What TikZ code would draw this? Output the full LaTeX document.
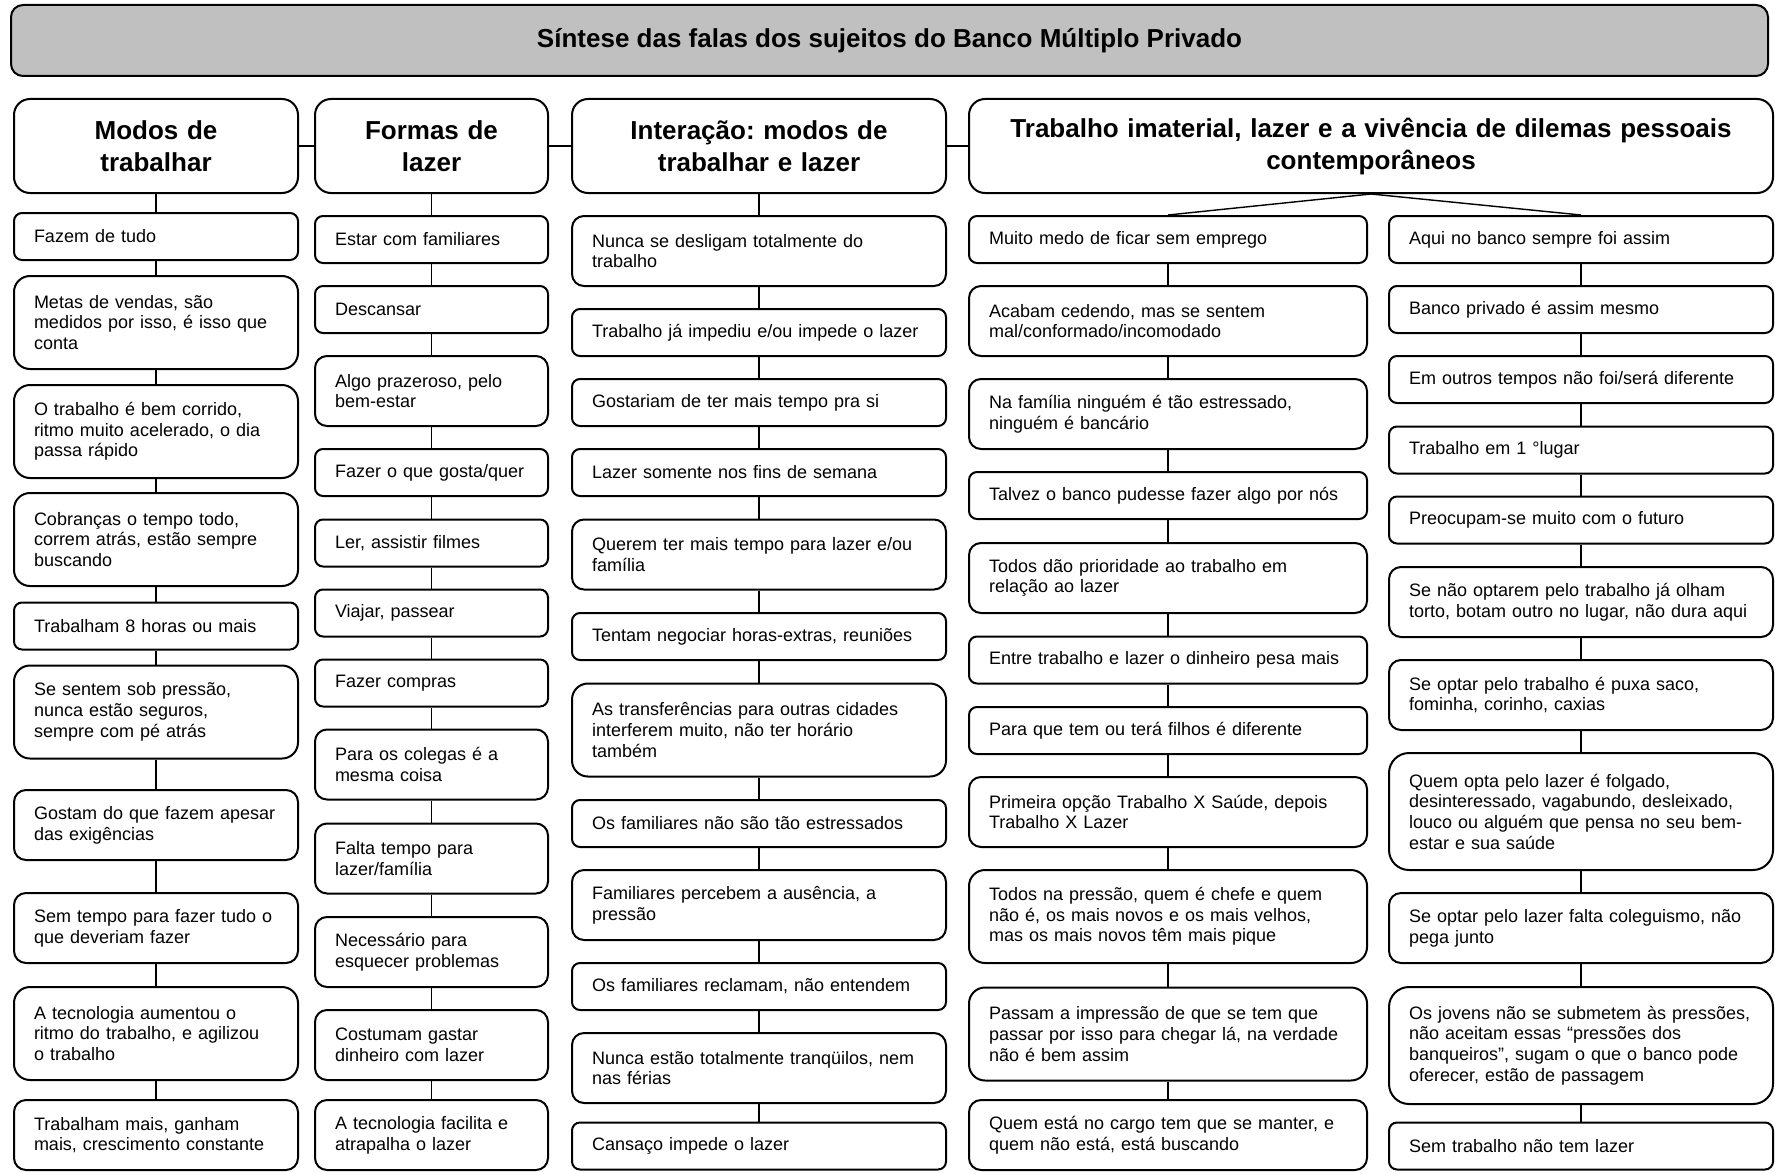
\documentclass[tikz,border=0pt]{standalone}
\usepackage{fontspec}
\setmainfont{Liberation Sans}
\definecolor{titulo}{RGB}{192,192,192}
\tikzset{
  falabox/.style={draw, line width=1pt, align=left, inner xsep=10pt, inner ysep=2pt,
    font=\fontsize{9}{10.35}\selectfont\frenchspacing},
  um/.style={minimum height=23.5pt, rounded corners=4pt},
  dois/.style={minimum height=35pt, rounded corners=6pt},
  tres/.style={minimum height=46.5pt, rounded corners=8pt},
  quatro/.style={minimum height=58.5pt, rounded corners=10pt},
  modos/.style={falabox, text width=122pt},
  formas/.style={falabox, text width=96.5pt},
  inter/.style={falabox, text width=167pt},
  dilemaA/.style={falabox, text width=179pt},
  dilemaB/.style={falabox, text width=172pt},
  cabeca/.style={draw, line width=1pt, align=center, inner xsep=10pt, minimum height=47pt,
    rounded corners=8pt, font=\fontsize{13}{16}\selectfont\bfseries\frenchspacing},
  liga/.style={line width=0.7pt}
}
\begin{document}
\begin{tikzpicture}[x=0.5pt, y=-0.5pt]
  \useasboundingbox[fill=white] (0,0) rectangle (1775,1172);
  \node[draw, line width=1pt, fill=titulo, minimum width=878.5pt, minimum height=35.5pt,
    rounded corners=6pt, font=\fontsize{13}{16}\selectfont\bfseries] (sintese) at (889.5,40.5)
    {Síntese das falas dos sujeitos do Banco Múltiplo Privado};

  \node[cabeca, text width=122pt] (m0) at (156,146) {Modos de\\trabalhar};
  \node[cabeca, text width=96.5pt] (f0) at (431.5,146) {Formas de\\lazer};
  \node[cabeca, text width=167pt] (i0) at (759,146) {Interação: modos de\\trabalhar e lazer};
  \node[cabeca, text width=382pt] (t0) at (1371,146)
    {Trabalho imaterial, lazer e a vivência de dilemas pessoais\\contemporâneos};

  \node[modos, um] (m1) at (156,236.5) {Fazem de tudo};
  \node[modos, tres] (m2) at (156,322.5) {Metas de vendas, são\\medidos por isso, é isso que\\conta};
  \node[modos, tres] (m3) at (156,431.5) {O trabalho é bem corrido,\\ritmo muito acelerado, o dia\\passa rápido};
  \node[modos, tres] (m4) at (156,539.5) {Cobranças o tempo todo,\\correm atrás, estão sempre\\buscando};
  \node[modos, um] (m5) at (156,626) {Trabalham 8 horas ou mais};
  \node[modos, tres] (m6) at (156,712) {Se sentem sob pressão,\\nunca estão seguros,\\sempre com pé atrás};
  \node[modos, dois] (m7) at (156,825) {Gostam do que fazem apesar\\das exigências};
  \node[modos, dois] (m8) at (156,928) {Sem tempo para fazer tudo o\\que deveriam fazer};
  \node[modos, tres] (m9) at (156,1033.5) {A tecnologia aumentou o\\ritmo do trabalho, e agilizou\\o trabalho};
  \node[modos, dois] (m10) at (156,1135) {Trabalham mais, ganham\\mais, crescimento constante};

  \node[formas, um] (f1) at (431.5,239.5) {Estar com familiares};
  \node[formas, um] (f2) at (431.5,309.5) {Descansar};
  \node[formas, dois] (f3) at (431.5,391) {Algo prazeroso, pelo\\bem-estar};
  \node[formas, um] (f4) at (431.5,472.5) {Fazer o que gosta/quer};
  \node[formas, um] (f5) at (431.5,543) {Ler, assistir filmes};
  \node[formas, um] (f6) at (431.5,613) {Viajar, passear};
  \node[formas, um] (f7) at (431.5,683) {Fazer compras};
  \node[formas, dois] (f8) at (431.5,764.5) {Para os colegas é a\\mesma coisa};
  \node[formas, dois] (f9) at (431.5,858.5) {Falta tempo para\\lazer/família};
  \node[formas, dois] (f10) at (431.5,952) {Necessário para\\esquecer problemas};
  \node[formas, dois] (f11) at (431.5,1045) {Costumam gastar\\dinheiro com lazer};
  \node[formas, dois] (f12) at (431.5,1135) {A tecnologia facilita e\\atrapalha o lazer};

  \node[inter, dois] (i1) at (759,251) {Nunca se desligam totalmente do\\trabalho};
  \node[inter, um] (i2) at (759,332.5) {Trabalho já impediu e/ou impede o lazer};
  \node[inter, um] (i3) at (759,402.5) {Gostariam de ter mais tempo pra si};
  \node[inter, um] (i4) at (759,472.5) {Lazer somente nos fins de semana};
  \node[inter, dois] (i5) at (759,554.5) {Querem ter mais tempo para lazer e/ou\\família};
  \node[inter, um] (i6) at (759,636.5) {Tentam negociar horas-extras, reuniões};
  \node[inter, tres] (i7) at (759,730) {As transferências para outras cidades\\interferem muito, não ter horário\\também};
  \node[inter, um] (i8) at (759,823.5) {Os familiares não são tão estressados};
  \node[inter, dois] (i9) at (759,905) {Familiares percebem a ausência, a\\pressão};
  \node[inter, um] (i10) at (759,986.5) {Os familiares reclamam, não entendem};
  \node[inter, dois] (i11) at (759,1068) {Nunca estão totalmente tranqüilos, nem\\nas férias};
  \node[inter, um] (i12) at (759,1146) {Cansaço impede o lazer};

  \node[dilemaA, um] (a1) at (1168,239.5) {Muito medo de ficar sem emprego};
  \node[dilemaA, dois] (a2) at (1168,321) {Acabam cedendo, mas se sentem\\mal/conformado/incomodado};
  \node[dilemaA, dois] (a3) at (1168,414) {Na família ninguém é tão estressado,\\ninguém é bancário};
  \node[dilemaA, um] (a4) at (1168,495.5) {Talvez o banco pudesse fazer algo por nós};
  \node[dilemaA, dois] (a5) at (1168,578) {Todos dão prioridade ao trabalho em\\relação ao lazer};
  \node[dilemaA, um] (a6) at (1168,660) {Entre trabalho e lazer o dinheiro pesa mais};
  \node[dilemaA, um] (a7) at (1168,730.5) {Para que tem ou terá filhos é diferente};
  \node[dilemaA, dois] (a8) at (1168,812) {Primeira opção Trabalho X Saúde, depois\\Trabalho X Lazer};
  \node[dilemaA, tres] (a9) at (1168,916.5) {Todos na pressão, quem é chefe e quem\\não é, os mais novos e os mais velhos,\\mas os mais novos têm mais pique};
  \node[dilemaA, tres] (a10) at (1168,1034) {Passam a impressão de que se tem que\\passar por isso para chegar lá, na verdade\\não é bem assim};
  \node[dilemaA, dois] (a11) at (1168,1135) {Quem está no cargo tem que se manter, e\\quem não está, está buscando};

  \node[dilemaB, um] (b1) at (1581,239.5) {Aqui no banco sempre foi assim};
  \node[dilemaB, um] (b2) at (1581,309.5) {Banco privado é assim mesmo};
  \node[dilemaB, um] (b3) at (1581,379.5) {Em outros tempos não foi/será diferente};
  \node[dilemaB, um] (b4) at (1581,450) {Trabalho em 1 °lugar};
  \node[dilemaB, um] (b5) at (1581,520) {Preocupam-se muito com o futuro};
  \node[dilemaB, dois] (b6) at (1581,602) {Se não optarem pelo trabalho já olham\\torto, botam outro no lugar, não dura aqui};
  \node[dilemaB, dois] (b7) at (1581,695) {Se optar pelo trabalho é puxa saco,\\fominha, corinho, caxias};
  \node[dilemaB, quatro] (b8) at (1581,811.5) {Quem opta pelo lazer é folgado,\\desinteressado, vagabundo, desleixado,\\louco ou alguém que pensa no seu bem-\\estar e sua saúde};
  \node[dilemaB, dois] (b9) at (1581,928) {Se optar pelo lazer falta coleguismo, não\\pega junto};
  \node[dilemaB, quatro] (b10) at (1581,1045.5) {Os jovens não se submetem às pressões,\\não aceitam essas “pressões dos\\banqueiros”, sugam o que o banco pode\\oferecer, estão de passagem};
  \node[dilemaB, um] (b11) at (1581,1146) {Sem trabalho não tem lazer};

  \draw[liga] (m0) -- (f0) -- (i0) -- (t0);
  \draw[liga] (m0) -- (m1) -- (m2) -- (m3) -- (m4) -- (m5) -- (m6) -- (m7) -- (m8) -- (m9) -- (m10);
  \draw[liga] (f0) -- (f1) -- (f2) -- (f3) -- (f4) -- (f5) -- (f6) -- (f7) -- (f8) -- (f9) -- (f10) -- (f11) -- (f12);
  \draw[liga] (i0) -- (i1) -- (i2) -- (i3) -- (i4) -- (i5) -- (i6) -- (i7) -- (i8) -- (i9) -- (i10) -- (i11) -- (i12);
  \draw[liga] (t0.south) -- (a1.north);
  \draw[liga] (t0.south) -- (b1.north);
  \draw[liga] (a1) -- (a2) -- (a3) -- (a4) -- (a5) -- (a6) -- (a7) -- (a8) -- (a9) -- (a10) -- (a11);
  \draw[liga] (b1) -- (b2) -- (b3) -- (b4) -- (b5) -- (b6) -- (b7) -- (b8) -- (b9) -- (b10) -- (b11);
\end{tikzpicture}
\end{document}
